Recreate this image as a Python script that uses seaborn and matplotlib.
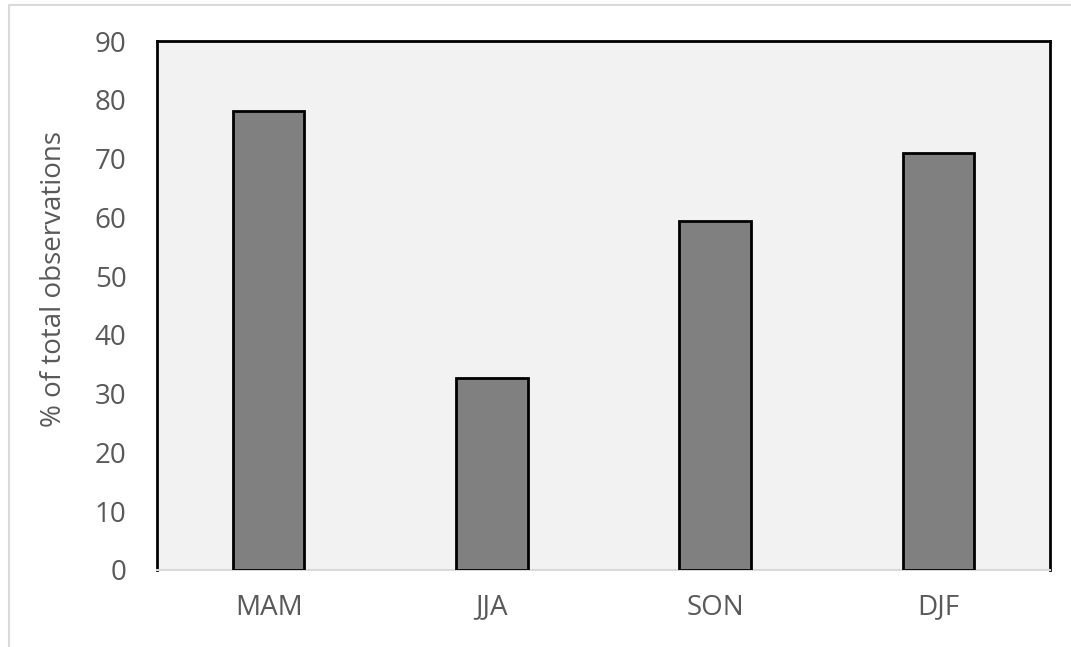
import matplotlib
matplotlib.use("Agg")
import matplotlib.pyplot as plt
from matplotlib.lines import Line2D
import seaborn as sns
import pandas as pd

seasons = ["MAM", "JJA", "SON", "DJF"]
percent_obs = [78.1, 32.7, 59.4, 70.9]
y_ticks = [0, 10, 20, 30, 40, 50, 60, 70, 80, 90]

df = pd.DataFrame({"season": seasons, "percent": percent_obs})

sns.set_theme(style="white")
plt.rcParams["font.family"] = ["Open Sans", "DejaVu Sans"]

fig = plt.figure(figsize=(10.71, 6.47), dpi=100)
ax = fig.add_axes([157 / 1071, 1 - 570 / 647, (1050 - 157) / 1071, (570 - 41) / 647])

sns.barplot(data=df, x="season", y="percent", ax=ax, color="#808080",
            saturation=1, width=0.32, edgecolor="black", linewidth=2, zorder=3)

ax.set_facecolor("#F2F2F2")
ax.set_ylim(0, 90)
ax.set_xlim(-0.5, 3.5)
ax.set_yticks(y_ticks)
ax.set_yticklabels([str(t) for t in y_ticks])

for side in ["top", "left", "right"]:
    ax.spines[side].set_color("black")
    ax.spines[side].set_linewidth(2)
    ax.spines[side].set_visible(True)
ax.spines["bottom"].set_color("#D9D9D9")
ax.spines["bottom"].set_linewidth(1.5)
ax.spines["bottom"].set_visible(True)

ax.tick_params(axis="both", length=0, labelsize=20, labelcolor="#595959")
ax.tick_params(axis="y", pad=22)
ax.tick_params(axis="x", pad=17)

ax.set_xlabel("")
ax.set_ylabel("% of total observations", fontsize=20, color="#595959")
ax.yaxis.set_label_coords(-0.1, 0.55)

# chart-area border (top and left edges)
fig.add_artist(Line2D([8.5 / 1071, 8.5 / 1071], [0, 1 - 5 / 647],
                      transform=fig.transFigure, color="#D9D9D9", lw=1.5))
fig.add_artist(Line2D([8.5 / 1071, 1], [1 - 5 / 647, 1 - 5 / 647],
                      transform=fig.transFigure, color="#D9D9D9", lw=1.5))

fig.savefig("out.png", dpi=100, facecolor="white")
